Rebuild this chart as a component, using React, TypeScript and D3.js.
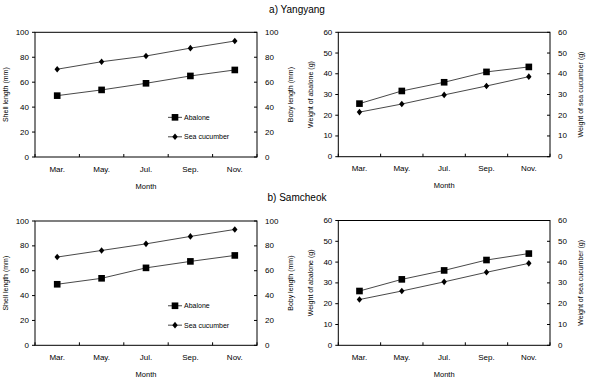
import * as d3 from 'd3'

// Monthly growth of abalone and sea cucumber at two sites
const months = ['Mar.', 'May.', 'Jul.', 'Sep.', 'Nov.']

const yangyangShell = [49.2, 53.8, 59.1, 65.0, 69.8]
const yangyangBody = [70.4, 76.4, 81.0, 87.3, 93.0]
const yangyangAbaloneWeight = [25.6, 31.7, 35.9, 40.9, 43.3]
const yangyangCucumberWeight = [21.5, 25.4, 29.8, 34.1, 38.6]

const samcheokShell = [49.1, 53.9, 62.3, 67.5, 72.3]
const samcheokBody = [71.0, 76.3, 81.6, 87.6, 93.2]
const samcheokAbaloneWeight = [26.1, 31.7, 36.0, 41.0, 44.1]
const samcheokCucumberWeight = [22.0, 26.1, 30.5, 35.1, 39.4]

const lengthTicks = [0, 20, 40, 60, 80, 100]
const weightTicks = [0, 10, 20, 30, 40, 50, 60]

const FONT = "'Liberation Sans', Arial, Helvetica, sans-serif"
const INK = '#000'

const squarePath = d3.symbol(d3.symbolSquare, 44)() ?? ''
const diamondPath = 'M0,-3.3L2.7,0L0,3.3L-2.7,0Z'

type PanelProps = {
  x0: number
  x1: number
  y0: number
  y1: number
  ticks: number[]
  abalone: number[]
  cucumber: number[]
  leftTitle: string
  rightTitle: string
  leftTitleX: number
  rightTitleX: number
  legend?: boolean
}

function Panel(p: PanelProps) {
  const x = d3.scaleBand<string>().domain(months).range([p.x0, p.x1])
  const y = d3
    .scaleLinear()
    .domain([0, d3.max(p.ticks) as number])
    .range([p.y1, p.y0])
  const cx = (m: string) => (x(m) as number) + x.bandwidth() / 2
  const line = d3
    .line<number>()
    .x((_, i) => cx(months[i]))
    .y((d) => y(d))
  const midY = (p.y0 + p.y1) / 2
  const boundaries = months.map((m) => x(m) as number).concat([p.x1])
  const legA = p.y1 - (p.y1 - p.y0) * 0.318
  const legC = p.y1 - (p.y1 - p.y0) * 0.162

  return (
    <g fontFamily={FONT} fill={INK}>
      {/* frame */}
      <rect x={p.x0} y={p.y0} width={p.x1 - p.x0} height={p.y1 - p.y0} fill="none" stroke="#000" strokeWidth={1} />

      {/* y ticks on both sides */}
      {p.ticks.map((t) => (
        <g key={t}>
          <line x1={p.x0 - 3} x2={p.x0} y1={y(t)} y2={y(t)} stroke="#000" />
          <line x1={p.x1 - 3} x2={p.x1} y1={y(t)} y2={y(t)} stroke="#000" />
          <text x={p.x0 - 6} y={y(t)} textAnchor="end" dominantBaseline="central" fontSize={8}>
            {t}
          </text>
          <text x={p.x1 + 8} y={y(t)} textAnchor="start" dominantBaseline="central" fontSize={8}>
            {t}
          </text>
        </g>
      ))}

      {/* category boundary ticks */}
      {boundaries.map((b, i) => (
        <line key={i} x1={b} x2={b} y1={p.y1 - 3} y2={p.y1} stroke="#000" />
      ))}
      {months.map((m) => (
        <text key={m} x={cx(m)} y={p.y1 + 12} textAnchor="middle" dominantBaseline="central" fontSize={8}>
          {m}
        </text>
      ))}
      <text x={(p.x0 + p.x1) / 2} y={p.y1 + 29} textAnchor="middle" dominantBaseline="central" fontSize={7.5}>
        Month
      </text>

      {/* axis titles */}
      <text
        transform={`translate(${p.leftTitleX},${midY}) rotate(-90)`}
        textAnchor="middle"
        dominantBaseline="central"
        fontSize={7}
      >
        {p.leftTitle}
      </text>
      <text
        transform={`translate(${p.rightTitleX},${midY}) rotate(-90)`}
        textAnchor="middle"
        dominantBaseline="central"
        fontSize={7}
      >
        {p.rightTitle}
      </text>

      {/* series */}
      <path d={line(p.abalone) ?? ''} fill="none" stroke="#333" strokeWidth={0.9} />
      <path d={line(p.cucumber) ?? ''} fill="none" stroke="#333" strokeWidth={0.9} />
      {p.abalone.map((v, i) => (
        <path key={'a' + i} d={squarePath} transform={`translate(${cx(months[i])},${y(v)})`} fill="#000" />
      ))}
      {p.cucumber.map((v, i) => (
        <path key={'c' + i} d={diamondPath} transform={`translate(${cx(months[i])},${y(v)})`} fill="#000" />
      ))}

      {p.legend && (
        <g>
          <line x1={p.x0 + 133} x2={p.x0 + 147} y1={legA} y2={legA} stroke="#333" strokeWidth={0.9} />
          <path d={squarePath} transform={`translate(${p.x0 + 140},${legA})`} fill="#000" />
          <text x={p.x0 + 149} y={legA} dominantBaseline="central" fontSize={7}>
            Abalone
          </text>
          <line x1={p.x0 + 133} x2={p.x0 + 147} y1={legC} y2={legC} stroke="#333" strokeWidth={0.9} />
          <path d={diamondPath} transform={`translate(${p.x0 + 140},${legC})`} fill="#000" />
          <text x={p.x0 + 149} y={legC} dominantBaseline="central" fontSize={7}>
            Sea cucumber
          </text>
        </g>
      )}
    </g>
  )
}

export default function App() {
  return (
    <svg
      width={589}
      height={382}
      style={{ position: 'fixed', left: 0, top: 0, background: '#fff' }}
    >
      <rect width={589} height={382} fill="#fff" />
      <text x={297} y={9} textAnchor="middle" dominantBaseline="central" fontSize={10} fontFamily={FONT} fill={INK}>
        a) Yangyang
      </text>
      <text x={297} y={197} textAnchor="middle" dominantBaseline="central" fontSize={10} fontFamily={FONT} fill={INK}>
        b) Samcheok
      </text>

      <Panel
        x0={35} x1={257} y0={32.3} y1={157}
        ticks={lengthTicks}
        abalone={yangyangShell}
        cucumber={yangyangBody}
        leftTitle="Shell length (mm)"
        rightTitle="Boby length (mm)"
        leftTitleX={5}
        rightTitleX={290}
        legend
      />
      <Panel
        x0={338.3} x1={550} y0={32.3} y1={156.7}
        ticks={weightTicks}
        abalone={yangyangAbaloneWeight}
        cucumber={yangyangCucumberWeight}
        leftTitle="Weight of abalone (g)"
        rightTitle="Weight of sea cucumber (g)"
        leftTitleX={310.5}
        rightTitleX={580.5}
      />
      <Panel
        x0={35} x1={257} y0={221} y1={345.3}
        ticks={lengthTicks}
        abalone={samcheokShell}
        cucumber={samcheokBody}
        leftTitle="Shell length (mm)"
        rightTitle="Boby length (mm)"
        leftTitleX={5}
        rightTitleX={290}
        legend
      />
      <Panel
        x0={338.3} x1={550} y0={220.5} y1={345.3}
        ticks={weightTicks}
        abalone={samcheokAbaloneWeight}
        cucumber={samcheokCucumberWeight}
        leftTitle="Weight of abalone (g)"
        rightTitle="Weight of sea cucumber (g)"
        leftTitleX={310.5}
        rightTitleX={580.5}
      />
    </svg>
  )
}
